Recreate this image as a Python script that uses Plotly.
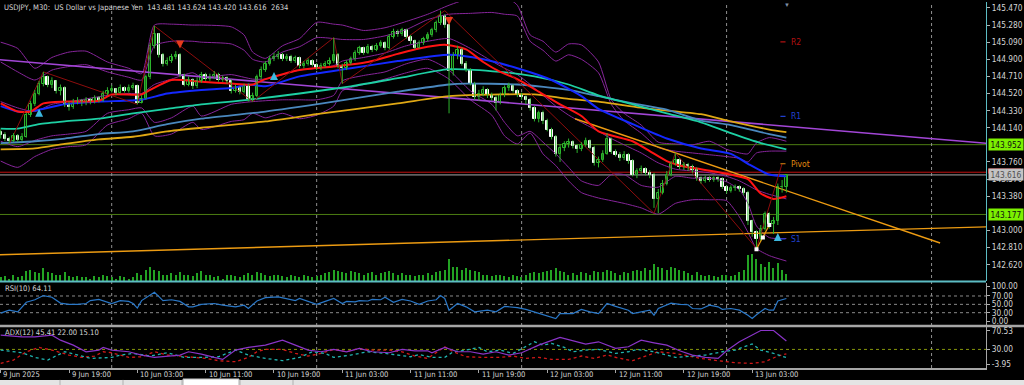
import plotly.graph_objects as go
import pandas as pd

# ---------------- data ----------------
first_open = 144.09
closes = [
    144.06, 144.02, 143.99, 144.05, 144.00, 144.04, 144.28, 144.40, 144.52, 144.63,
    144.70, 144.62, 144.66, 144.55, 144.58, 144.40, 144.37, 144.42, 144.44, 144.41,
    144.45, 144.43, 144.47, 144.44, 144.52, 144.55, 144.57, 144.53, 144.58, 144.55,
    144.58, 144.60, 144.42, 144.46, 144.70, 145.05, 145.18, 144.95, 144.85, 144.88,
    144.92, 144.95, 144.72, 144.62, 144.67, 144.60, 144.66, 144.72, 144.68, 144.70,
    144.73, 144.67, 144.69, 144.66, 144.55, 144.58, 144.54, 144.60, 144.46, 144.49,
    144.70, 144.78, 144.85, 144.90, 144.93, 144.95, 144.90, 144.93, 144.88, 144.91,
    144.82, 144.85, 144.88, 144.84, 144.80, 144.83, 144.85, 144.88, 144.95, 144.83,
    144.80, 144.86, 144.90, 144.97, 145.02, 144.97, 145.04, 145.00, 145.05, 145.08,
    145.02, 145.15, 145.20, 145.18, 145.22, 145.15, 145.10, 145.03, 145.08, 145.12,
    145.17, 145.22, 145.30, 145.38, 145.28, 144.77, 144.94, 145.00, 144.85, 144.78,
    144.63, 144.48, 144.52, 144.56, 144.50, 144.47, 144.42, 144.50, 144.58, 144.60,
    144.55, 144.50, 144.48, 144.45, 144.36, 144.24, 144.30, 144.22, 144.12, 144.04,
    143.85, 143.92, 143.96, 143.98, 143.94, 143.90, 143.95, 143.99, 143.92, 143.75,
    143.78, 143.85, 144.02, 143.87, 143.84, 143.80, 143.84, 143.77, 143.62, 143.66,
    143.68, 143.64, 143.62, 143.35, 143.42, 143.52, 143.62, 143.74, 143.78, 143.70,
    143.73, 143.70, 143.67, 143.58, 143.55, 143.58, 143.56, 143.58, 143.57, 143.48,
    143.44, 143.47, 143.48, 143.46, 143.42, 143.10, 142.98, 142.90, 143.02, 143.18,
    143.07, 143.10, 143.48, 143.481, 143.616,
]
highs = [
    144.12, 144.09, 144.04, 144.08, 144.07, 144.08, 144.31, 144.44, 144.56, 144.66,
    144.76, 144.72, 144.70, 144.67, 144.62, 144.60, 144.43, 144.46, 144.48, 144.46,
    144.48, 144.47, 144.50, 144.49, 144.55, 144.59, 144.61, 144.58, 144.62, 144.60,
    144.62, 144.64, 144.62, 144.50, 144.73, 145.08, 145.27, 145.19, 144.97, 144.92,
    144.96, 144.99, 144.97, 144.74, 144.71, 144.69, 144.70, 144.76, 144.75, 144.74,
    144.77, 144.75, 144.72, 144.71, 144.68, 144.62, 144.60, 144.63, 144.63, 144.53,
    144.73, 144.82, 144.88, 144.94, 144.97, 144.99, 144.97, 144.96, 144.95, 144.94,
    144.93, 144.88, 144.91, 144.90, 144.86, 144.86, 144.88, 144.92, 145.14, 144.97,
    144.85, 144.89, 144.93, 145.00, 145.05, 145.04, 145.07, 145.06, 145.08, 145.11,
    145.10, 145.18, 145.24, 145.23, 145.25, 145.24, 145.17, 145.12, 145.11, 145.15,
    145.20, 145.25, 145.33, 145.44, 145.40, 145.30, 144.98, 145.05, 145.03, 144.88,
    144.80, 144.65, 144.56, 144.60, 144.58, 144.53, 144.50, 144.53, 144.61, 144.64,
    144.62, 144.57, 144.53, 144.50, 144.47, 144.38, 144.33, 144.33, 144.24, 144.14,
    144.06, 143.96, 143.99, 144.02, 144.00, 143.96, 143.98, 144.03, 144.01, 143.94,
    143.82, 143.89, 144.08, 144.03, 143.90, 143.87, 143.88, 143.86, 143.79, 143.69,
    143.72, 143.70, 143.67, 143.64, 143.46, 143.56, 143.66, 143.77, 143.86, 143.80,
    143.76, 143.75, 143.73, 143.70, 143.60, 143.61, 143.60, 143.60, 143.60, 143.59,
    143.50, 143.50, 143.51, 143.50, 143.48, 143.44, 143.12, 143.00, 143.06, 143.21,
    143.20, 143.15, 143.52, 143.56, 143.624,
]
lows = [
    144.02, 143.99, 143.96, 143.98, 143.98, 143.99, 144.03, 144.26, 144.38, 144.50,
    144.60, 144.59, 144.58, 144.52, 144.50, 144.37, 144.33, 144.35, 144.40, 144.38,
    144.39, 144.40, 144.41, 144.42, 144.43, 144.50, 144.53, 144.50, 144.52, 144.53,
    144.53, 144.56, 144.40, 144.41, 144.45, 144.68, 145.02, 144.92, 144.82, 144.83,
    144.86, 144.90, 144.70, 144.60, 144.60, 144.57, 144.58, 144.64, 144.66, 144.66,
    144.68, 144.65, 144.65, 144.63, 144.52, 144.53, 144.51, 144.52, 144.43, 144.43,
    144.48, 144.68, 144.76, 144.83, 144.88, 144.90, 144.88, 144.88, 144.86, 144.86,
    144.80, 144.80, 144.83, 144.82, 144.78, 144.78, 144.81, 144.83, 144.86, 144.80,
    144.63, 144.78, 144.84, 144.88, 144.95, 144.95, 144.96, 144.98, 144.99, 145.03,
    145.00, 145.01, 145.13, 145.15, 145.16, 145.13, 145.07, 145.01, 145.02, 145.06,
    145.10, 145.15, 145.20, 145.28, 145.25, 144.30, 144.72, 144.90, 144.83, 144.76,
    144.61, 144.45, 144.44, 144.49, 144.47, 144.44, 144.33, 144.40, 144.48, 144.55,
    144.53, 144.48, 144.45, 144.40, 144.33, 144.21, 144.20, 144.18, 144.10, 144.01,
    143.82, 143.76, 143.88, 143.92, 143.91, 143.86, 143.88, 143.93, 143.90, 143.72,
    143.70, 143.76, 143.84, 143.85, 143.82, 143.77, 143.78, 143.74, 143.60, 143.58,
    143.63, 143.61, 143.58, 143.25, 143.19, 143.40, 143.50, 143.60, 143.72, 143.68,
    143.67, 143.66, 143.64, 143.55, 143.52, 143.53, 143.54, 143.54, 143.54, 143.46,
    143.41, 143.42, 143.44, 143.43, 143.39, 143.06, 142.93, 142.80, 142.88, 143.00,
    143.02, 142.96, 143.06, 143.42, 143.420,
]
volumes = [
    1500, 1900, 1100, 2300, 1500, 1900, 3800, 4500, 3400, 3000,
    4900, 3400, 3000, 2600, 2300, 3400, 1900, 1500, 1900, 1500,
    1500, 1100, 1900, 1500, 2300, 1900, 1500, 1100, 1900, 1500, 1100, 1500,
    3000, 2600, 4500, 5300, 4500, 3800,
    2600, 2300, 3000, 2300, 3400, 2600, 2300, 1900, 3000, 3800, 2600, 2300,
    1500, 1900, 1100, 2300, 2600, 1900, 1500, 2300, 3000, 2600,
    3400, 3000, 2300, 1900, 2600, 2300, 1900, 1500, 2300, 1900,
    1500, 2600, 1900, 1500, 1900, 2300,
    3000, 3400, 4500, 3800, 3400, 3000, 3800, 3400, 3000, 2600,
    3000, 3400, 2600, 3000, 3400, 3800, 3000, 2600, 3000, 2300,
    2300, 1900, 2600, 2300, 3000, 2600, 3400, 3800, 4500,
    8300,
    5600, 5300, 4500, 4900, 4500, 3800, 3400,
    2600, 2300, 1900, 2600, 2300, 1900, 1500, 2300, 1900, 1500, 2600, 3000, 3400,
    3000, 3400, 3800, 4500, 4900, 3800, 3400, 2600, 3000, 2600, 3400, 3000, 2600, 3800, 3400,
    3400, 4500, 3800, 3000, 2600, 3400, 3000, 3800, 4500, 3800, 4900, 4500,
    6400, 5600, 4900, 4500, 5300, 4900, 4500, 3800,
    3000, 2600, 3400, 2300, 1900, 2300, 1900, 1500, 2600, 2300, 1900, 2600,
    3400, 4500, 9800, 10200, 8300, 6400,
    5600, 7500, 4900, 7100, 4500, 2634,
]

# moving averages (bar index, price)
red_ma_bars = [0, 4, 7, 10, 15, 23, 26, 33, 35, 40, 47, 54, 59, 62, 70, 78, 86, 93, 98, 104, 109, 113,
               117, 121, 126, 131, 136, 140, 148, 152, 156, 160, 164, 171, 175, 178, 181, 184]
red_ma = [144.41, 144.32, 144.32, 144.41, 144.43, 144.44, 144.51, 144.51, 144.56, 144.67, 144.65, 144.63,
          144.62, 144.68, 144.78, 144.82, 144.87, 144.96, 145.02, 145.06, 145.01, 144.87, 144.76, 144.68,
          144.54, 144.40, 144.27, 144.10, 143.99, 143.88, 143.77, 143.71, 143.68, 143.62, 143.57, 143.41,
          143.35, 143.38]
blue_ma_bars = [0, 4, 8, 15, 23, 33, 39, 47, 54, 58, 62, 70, 82, 93, 105, 113, 121, 129, 136, 140, 148,
                156, 164, 171, 175, 180, 184]
blue_ma = [144.38, 144.32, 144.33, 144.40, 144.43, 144.45, 144.52, 144.56, 144.58, 144.62, 144.60, 144.71,
           144.80, 144.88, 144.95, 144.90, 144.80, 144.67, 144.49, 144.35, 144.18, 144.02, 143.91, 143.85,
           143.74, 143.62, 143.60]
teal_ma_bars = [0, 4, 9, 15, 23, 31, 39, 47, 58, 70, 82, 93, 105, 117, 125, 133, 140, 148, 156, 164, 171,
                178, 184]
teal_ma = [144.13, 144.13, 144.18, 144.21, 144.24, 144.30, 144.35, 144.40, 144.45, 144.52, 144.60, 144.69,
           144.79, 144.76, 144.71, 144.62, 144.50, 144.40, 144.30, 144.20, 144.08, 143.97, 143.90]
steel_ma_bars = [0, 8, 15, 23, 31, 39, 47, 62, 78, 93, 105, 109, 121, 133, 140, 148, 156, 164, 171, 180, 184]
steel_ma = [143.97, 143.99, 144.02, 144.07, 144.10, 144.18, 144.24, 144.32, 144.43, 144.54, 144.62, 144.63,
            144.62, 144.56, 144.49, 144.41, 144.34, 144.22, 144.17, 144.07, 144.03]
gold_ma_bars = [0, 8, 15, 23, 31, 39, 47, 62, 74, 93, 105, 117, 125, 133, 140, 152, 164, 171, 180, 184]
gold_ma = [143.90, 143.91, 143.96, 144.01, 144.04, 144.10, 144.14, 144.21, 144.29, 144.41, 144.49, 144.51,
           144.51, 144.46, 144.43, 144.35, 144.29, 144.21, 144.12, 144.09]

# bollinger style envelopes
band_bars = [0, 4, 8, 12, 16, 20, 25, 30, 33, 36, 40, 45, 47, 54, 57, 59, 62, 66, 70, 74, 78, 80, 85, 90,
             95, 100, 105, 110, 115, 118, 121, 124, 127, 130, 133, 136, 140, 143, 146, 150, 154, 158, 162,
             166, 170, 173, 175, 177, 180, 184]
band_uo = [145.09, 145.02, 144.80, 144.92, 144.98, 144.99, 144.87, 144.80, 144.74, 145.28, 145.29, 145.28,
           145.28, 145.26, 145.17, 144.98, 144.91, 145.05, 145.13, 145.31, 145.29, 145.28, 145.22, 145.25,
           145.32, 145.40, 145.50, 145.58, 145.62, 145.60, 145.50, 145.17, 145.10, 144.98, 145.07, 145.06,
           144.87, 144.45, 144.30, 144.17, 143.98, 143.96, 143.95, 143.99, 143.90, 143.86, 143.85, 143.97,
           144.03, 143.99]
band_ui = [144.87, 144.76, 144.67, 144.78, 144.82, 144.84, 144.76, 144.70, 144.67, 145.05, 145.10, 145.10,
           145.09, 145.07, 145.00, 144.90, 144.87, 144.98, 145.04, 145.14, 145.13, 145.12, 145.12, 145.16,
           145.23, 145.34, 145.40, 145.41, 145.42, 145.40, 145.38, 145.10, 145.00, 144.88, 144.95, 144.90,
           144.75, 144.40, 144.22, 144.08, 143.92, 143.88, 143.86, 143.84, 143.82, 143.80, 143.76, 143.86,
           143.88, 143.88]
band_mid = [144.43, 144.36, 144.32, 144.40, 144.43, 144.46, 144.50, 144.52, 144.52, 144.62, 144.68, 144.75,
            144.70, 144.73, 144.70, 144.68, 144.68, 144.73, 144.78, 144.80, 144.83, 144.88, 144.92, 144.97,
            145.05, 145.10, 145.13, 145.02, 144.88, 144.80, 144.73, 144.62, 144.50, 144.38, 144.28, 144.20,
            144.10, 144.02, 143.95, 143.86, 143.75, 143.68, 143.66, 143.64, 143.60, 143.55, 143.50, 143.45,
            143.40, 143.35]
band_li = [143.99, 143.93, 144.00, 144.05, 144.07, 144.10, 144.30, 144.34, 144.36, 144.20, 144.25, 144.38,
           144.27, 144.40, 144.42, 144.43, 144.44, 144.45, 144.45, 144.45, 144.50, 144.66, 144.72, 144.76,
           144.85, 144.90, 144.78, 144.55, 144.40, 144.20, 144.05, 144.10, 143.98, 143.85, 143.70, 143.55,
           143.50, 143.62, 143.62, 143.50, 143.48, 143.60, 143.58, 143.58, 143.54, 143.45, 143.30, 143.05,
           142.92, 142.91]
band_lo = [143.77, 143.70, 143.82, 143.90, 143.93, 143.95, 144.17, 144.24, 144.30, 144.05, 144.07, 144.20,
           144.12, 144.21, 144.23, 144.30, 144.25, 144.30, 144.24, 144.28, 144.38, 144.55, 144.62, 144.68,
           144.75, 144.80, 144.68, 144.45, 144.28, 144.05, 143.96, 144.08, 143.85, 143.72, 143.55, 143.42,
           143.36, 143.33, 143.30, 143.25, 143.18, 143.30, 143.34, 143.34, 143.33, 143.15, 142.98, 142.80,
           142.72, 142.66]

# trend lines, zigzag, markers
purple_tl_bars = [-0.2, 231.0]
purple_tl = [144.895, 143.967]
orange_up_bars = [-0.2, 231.0]
orange_up = [142.73, 143.04]
orange_dn_bars = [134.5, 220.0]
orange_dn = [144.24, 142.86]
zigzag_bars = [2, 10, 32, 36, 59, 78, 80, 104, 153, 158, 177, 183]
zigzag = [143.96, 144.76, 144.40, 145.27, 144.43, 145.14, 144.63, 145.44, 143.19, 143.86, 142.80, 143.74]
fractal_bars = [177, 178.5, 180]
fractal = [142.79, 142.92, 143.06]
arrow_up_bars = [9, 64, 182]
arrow_up = [144.35, 144.76, 142.97]
arrow_dn_bars = [42, 105]
arrow_dn = [145.02, 145.28]
pivot_names = ["R2", "R1", "Pivot", "S1"]
pivot_levels = [145.094, 144.265, 143.740, 142.906]
pivot_colors = ["#b01010", "#2040d0", "#e08a10", "#2040d0"]

levels_green = [143.952, 143.177]
bid, ask = 143.616, 143.646

# RSI(10)
rsi_bars = [0, 2, 4, 6, 8, 10, 12, 14, 16, 18, 20, 21, 23, 26, 28, 30, 31, 32, 33, 35, 36, 37, 38, 40, 42,
            44, 45, 47, 50, 52, 55, 57, 58, 60, 62, 65, 67, 69, 70, 72, 74, 76, 78, 80, 81, 83, 84, 86, 87,
            89, 90, 92, 94, 96, 98, 100, 102, 103, 104, 105, 107, 109, 111, 114, 116, 118, 121, 123, 125,
            127, 130, 131, 134, 136, 138, 140, 142, 144, 147, 148, 150, 152, 153, 154, 157, 159, 161, 162,
            164, 166, 168, 169, 171, 173, 175, 176, 177, 179, 180, 181, 182, 184]
rsi = [29, 36, 32, 55, 61, 71, 67, 53, 50, 50, 52, 59, 62, 52, 59, 57, 52, 41, 59, 71, 79, 69, 59, 61, 57,
       44, 44, 50, 52, 48, 44, 48, 40, 58, 66, 68, 64, 59, 64, 57, 50, 57, 64, 52, 57, 56, 59, 58, 62, 61,
       67, 55, 62, 58, 50, 58, 61, 71, 64, 36, 52, 44, 32, 36, 32, 45, 42, 38, 32, 26, 16, 28, 28, 38, 32,
       28, 52, 45, 36, 28, 32, 36, 24, 40, 53, 50, 49, 40, 39, 48, 44, 38, 40, 36, 24, 16, 25, 40, 36, 36,
       58, 64.11]

# ADX(12)
adx_bars = [0, 5, 8, 12, 14, 17, 20, 23, 24, 26, 30, 33, 36, 39, 42, 44, 47, 50, 52, 55, 58, 62, 66, 69,
            72, 75, 78, 81, 84, 87, 91, 94, 97, 100, 101, 104, 107, 110, 113, 116, 119, 122, 126, 131, 134,
            137, 140, 144, 147, 150, 153, 156, 159, 162, 165, 168, 170, 173, 178, 181, 184]
adx = [56.0, 53.0, 53.0, 56.0, 46.9, 37.8, 25.7, 28.8, 33.6, 28.8, 25.7, 19.7, 15.4, 17.9, 19.7, 25.7,
       21.5, 15.4, 11.8, 28.8, 33.6, 37.8, 46.9, 37.8, 28.8, 25.7, 30.0, 25.7, 31.8, 25.7, 23.9, 30.0, 27.5,
       27.5, 23.9, 33.6, 25.7, 25.7, 21.5, 25.7, 19.7, 23.9, 37.8, 51.8, 45.7, 39.7, 43.9, 31.8, 34.8, 46.9,
       42.1, 37.8, 27.5, 19.7, 15.4, 13.6, 27.5, 43.9, 64.5, 64.5, 45.41]
pdi_bars = [0, 3, 6, 9, 12, 16, 19, 22, 24, 26, 30, 33, 36, 39, 42, 45, 48, 51, 55, 58, 60, 62, 66, 69, 72,
            75, 78, 81, 84, 87, 91, 94, 97, 100, 104, 106, 109, 113, 117, 120, 123, 126, 129, 133, 136, 139,
            142, 145, 148, 151, 154, 158, 161, 164, 168, 172, 176, 179, 182, 184]
pdi = [4.5, 10.6, 25.7, 33.6, 28.8, 19.7, 15.4, 17.9, 25.7, 23.9, 15.4, 16.6, 25.7, 19.7, 17.9, 15.4, 13.6,
       9.4, 7.5, 15.4, 25.7, 30.0, 30.0, 22.7, 17.9, 22.7, 30.0, 25.7, 31.8, 28.8, 28.8, 25.7, 17.9, 13.6,
       34.8, 25.7, 16.6, 15.4, 15.4, 17.9, 13.6, 15.4, 11.8, 11.8, 17.9, 13.6, 19.7, 13.6, 9.4, 17.9, 25.7,
       22.7, 17.9, 13.6, 9.4, 5.7, 4.5, 7.5, 17.9, 22.0]
mdi_bars = [0, 5, 8, 11, 15, 18, 21, 26, 28, 31, 35, 39, 43, 47, 51, 55, 58, 62, 66, 70, 73, 76, 78, 82,
            86, 90, 94, 96, 98, 101, 104, 106, 109, 112, 114, 117, 120, 122, 125, 127, 129, 132, 134, 137,
            140, 144, 147, 149, 153, 156, 158, 162, 165, 169, 172, 176, 178, 181, 184]
mdi = [28.8, 23.9, 15.4, 10.6, 25.7, 19.7, 13.6, 15.4, 19.7, 22.7, 17.9, 23.9, 15.4, 15.4, 16.6, 28.8, 19.7,
       13.6, 9.4, 15.4, 25.7, 22.7, 15.4, 19.7, 25.7, 22.7, 18.0, 16.6, 20.6, 15.4, 15.4, 25.7, 28.8, 33.6,
       25.7, 28.8, 22.7, 31.8, 43.9, 37.8, 40.9, 33.6, 25.7, 28.8, 30.0, 22.7, 25.7, 30.0, 25.7, 19.7, 15.4,
       17.9, 19.7, 25.7, 28.8, 40.0, 28.8, 22.7, 15.1]

# price ticks that are visible on the right scale (the others sit under the level boxes)
price_ticks = [145.470, 145.280, 145.090, 144.900, 144.710, 144.520, 144.330, 144.140, 143.760,
               143.570, 143.380, 143.000, 142.810, 142.620]
xlabel_bars = [0, 16, 32, 48, 64, 80, 96, 112, 128, 144, 160, 176]
xlabels = ["9 Jun 2025", "9 Jun 19:00", "10 Jun 03:00", "10 Jun 11:00", "10 Jun 19:00", "11 Jun 03:00",
           "11 Jun 11:00", "11 Jun 19:00", "12 Jun 03:00", "12 Jun 11:00", "12 Jun 19:00", "13 Jun 03:00"]
day_sep_bars = [26, 74, 122, 170, 218]
header = "USDJPY, M30:  US Dollar vs Japanese Yen  143.481 143.624 143.420 143.616  2634"

for arr in (closes, highs, lows, volumes):
    assert len(arr) == 185, len(arr)
for a, b in ((red_ma_bars, red_ma), (blue_ma_bars, blue_ma), (teal_ma_bars, teal_ma),
             (steel_ma_bars, steel_ma), (gold_ma_bars, gold_ma), (rsi_bars, rsi), (adx_bars, adx),
             (pdi_bars, pdi), (mdi_bars, mdi)):
    assert len(a) == len(b)
for b in (band_uo, band_ui, band_mid, band_li, band_lo):
    assert len(b) == len(band_bars)

# ---------------- helpers ----------------
START = pd.Timestamp("2025-06-09 11:00")
BAR_MS = 30 * 60 * 1000


def T(b):
    return START + pd.Timedelta(minutes=30 * b)


PLOT_H = 368.0
PLOT_W = 986.0


def py(ypx):
    return (PLOT_H - ypx) / PLOT_H


FONT = "Liberation Sans Narrow, Arial Narrow, DejaVu Sans Condensed, sans-serif"
GREEN = "#2db52d"

n = len(closes)
opens = [first_open] + closes[:-1]
times = [T(i) for i in range(n)]

fig = go.Figure()


def add_line(bars, vals, color, width=1.0, dash=None, yaxis="y", shape="spline"):
    fig.add_trace(go.Scatter(x=[T(b) for b in bars], y=vals, mode="lines", yaxis=yaxis,
                             line=dict(color=color, width=width, dash=dash, shape=shape,
                                       smoothing=0.6 if shape == "spline" else None),
                             hoverinfo="skip"))


# bands (behind)
for vals in (band_uo, band_ui, band_mid, band_li, band_lo):
    add_line(band_bars, vals, "#86259a", 1)

# trend lines
add_line(purple_tl_bars, purple_tl, "#a246d6", 1.6, shape="linear")
add_line(orange_up_bars, orange_up, "#ec9b12", 1.4, shape="linear")
add_line(orange_dn_bars, orange_dn, "#ec9b12", 1.4, shape="linear")

# moving averages
add_line(gold_ma_bars, gold_ma, "#e0a814", 1.8)
add_line(steel_ma_bars, steel_ma, "#4a88be", 1.8)
add_line(teal_ma_bars, teal_ma, "#1ed0a4", 1.8)
add_line(blue_ma_bars, blue_ma, "#1428ff", 2.0)
add_line(red_ma_bars, red_ma, "#ff1414", 2.0)

# zigzag
add_line(zigzag_bars, zigzag, "#8e0d0d", 1.0, shape="linear")

# candle wicks
wx, wy = [], []
for t, h, l in zip(times, highs, lows):
    wx += [t, t, None]
    wy += [l, h, None]
fig.add_trace(go.Scatter(x=wx, y=wy, mode="lines", line=dict(color=GREEN, width=1), hoverinfo="skip"))

# candle bodies
base = [min(o, c) for o, c in zip(opens, closes)]
height = [max(abs(c - o), 0.004) for o, c in zip(opens, closes)]
fill = ["#000000" if c >= o else "#ffffff" for o, c in zip(opens, closes)]
edge = [GREEN if c >= o else "#ffffff" for o, c in zip(opens, closes)]
fig.add_trace(go.Bar(x=times, y=height, base=base, width=BAR_MS * 0.55,
                     marker=dict(color=fill, line=dict(color=edge, width=1)), hoverinfo="skip"))

# fractal markers and arrows
fig.add_trace(go.Scatter(x=[T(b) for b in fractal_bars], y=fractal, mode="lines+markers",
                         line=dict(color="#ec9b12", width=1.2),
                         marker=dict(symbol="square", size=4, color="#ffffff"), hoverinfo="skip"))
fig.add_trace(go.Scatter(x=[T(b) for b in arrow_up_bars], y=arrow_up, mode="markers",
                         marker=dict(symbol="arrow-up", size=8, color="#3cb8e0"), hoverinfo="skip"))
fig.add_trace(go.Scatter(x=[T(b) for b in arrow_dn_bars], y=arrow_dn, mode="markers",
                         marker=dict(symbol="arrow-down", size=8, color="#e83a1c"), hoverinfo="skip"))

# pivot ticks
for lvl, col in zip(pivot_levels, pivot_colors):
    add_line([182.6, 183.8], [lvl, lvl], col, 1.2, shape="linear")

# volume
fig.add_trace(go.Bar(x=times, y=volumes, yaxis="y4", width=BAR_MS * 0.3,
                     marker=dict(color="#23a323", line=dict(width=0)), hoverinfo="skip"))

# RSI
add_line(rsi_bars, rsi, "#2a78c8", 1.2, yaxis="y2", shape="linear")
# ADX
add_line(pdi_bars, pdi, "#d01818", 1.3, dash="dot", yaxis="y3", shape="linear")
add_line(mdi_bars, mdi, "#20b4b0", 1.3, dash="dot", yaxis="y3", shape="linear")
add_line(adx_bars, adx, "#8a34c8", 1.2, yaxis="y3", shape="linear")

# ---------------- shapes ----------------
shapes = []
for lvl in levels_green:
    shapes.append(dict(type="line", xref="paper", x0=0, x1=1, yref="y", y0=lvl, y1=lvl,
                       line=dict(color="#4c7d12", width=1), layer="below"))
shapes.append(dict(type="line", xref="paper", x0=0, x1=1, yref="y", y0=ask, y1=ask,
                   line=dict(color="#c01010", width=1), layer="below"))
shapes.append(dict(type="line", xref="paper", x0=0, x1=1, yref="y", y0=bid, y1=bid,
                   line=dict(color="#a8a8a8", width=1), layer="below"))
for b in day_sep_bars:
    shapes.append(dict(type="line", xref="x", x0=T(b), x1=T(b), yref="paper", y0=0, y1=1,
                       line=dict(color="#8f8f8f", width=1, dash="dot"), layer="below"))
for lv in (70, 50, 30):
    shapes.append(dict(type="line", xref="paper", x0=0, x1=1, yref="y2", y0=lv, y1=lv,
                       line=dict(color="#8a8a8a", width=1, dash="dot"), layer="below"))
shapes.append(dict(type="line", xref="paper", x0=0, x1=1, yref="y3", y0=30, y1=30,
                   line=dict(color="#86960a", width=1, dash="dot"), layer="below"))
# ask price box (its text is hidden under the bid box in the reference)
shapes.append(dict(type="rect", xref="paper", x0=988 / PLOT_W, x1=1021 / PLOT_W, yref="paper",
                   y0=py(172.5), y1=py(167.5), fillcolor="#e01010", line=dict(width=0)))
# panel separators
shapes.append(dict(type="line", xref="paper", x0=0, x1=1, yref="paper", y0=py(281), y1=py(281),
                   line=dict(color="#5cbcc4", width=2)))
shapes.append(dict(type="line", xref="paper", x0=0, x1=1024 / PLOT_W, yref="paper", y0=py(325.8),
                   y1=py(325.8), line=dict(color="#a6a6a6", width=2.5)))
# bottom tab strip
shapes.append(dict(type="rect", xref="paper", x0=0, x1=1024 / PLOT_W, yref="paper", y0=py(380), y1=py(386),
                   fillcolor="#e4e4e4", line=dict(width=0)))
for xp in (60, 123, 182, 240, 293):
    shapes.append(dict(type="line", xref="paper", x0=xp / PLOT_W, x1=xp / PLOT_W, yref="paper",
                       y0=py(380), y1=py(386), line=dict(color="#b0b0b0", width=1)))
shapes.append(dict(type="rect", xref="paper", x0=183 / PLOT_W, x1=239 / PLOT_W, yref="paper",
                   y0=py(379), y1=py(386), fillcolor="#ffffff", line=dict(color="#b0b0b0", width=1)))

# ---------------- annotations ----------------
ann = []
small = dict(family=FONT, size=7.6, color="#d6d6d6")
ann.append(dict(text=header.replace("  ", "\u00a0\u00a0"), xref="paper", yref="paper", x=0.002, y=py(6),
                xanchor="left", yanchor="middle", showarrow=False, font=small))
ann.append(dict(text="RSI(10) 64.11", xref="paper", yref="paper", x=0.003, y=py(288), xanchor="left",
                yanchor="middle", showarrow=False, font=small))
ann.append(dict(text="ADX(12) 45.41 22.00 15.10", xref="paper", yref="paper", x=0.003, y=py(332),
                xanchor="left", yanchor="middle", showarrow=False, font=small))
for b, txt in zip(xlabel_bars, xlabels):
    ann.append(dict(text=txt, xref="x", yref="paper", x=T(b), y=py(374.5), xanchor="left",
                    yanchor="middle", xshift=1 if b else 0, showarrow=False, font=small))
for name, lvl, col in zip(pivot_names, pivot_levels, pivot_colors):
    ann.append(dict(text=name, xref="x", yref="y", x=T(184.6), y=lvl, xanchor="left", yanchor="middle",
                    showarrow=False, font=dict(family=FONT, size=8.5, color=col)))
ann.append(dict(text="\u25bc", xref="x", yref="paper", x=T(184.2), y=py(3), xanchor="center",
                yanchor="middle", showarrow=False, font=dict(size=6, color="#7f8fa6")))


def box(txt, y, yref, bg, fc="#101010"):
    return dict(text=txt, xref="paper", yref=yref, x=1, y=y, xanchor="left", yanchor="middle", xshift=2,
                showarrow=False, bgcolor=bg, borderpad=0.5, width=33,
                font=dict(family=FONT, size=8.3, color=fc))


ann.append(box(f"{bid:.3f}", bid, "y", "#c4c4c4", "#505050"))
ann.append(box(f"{levels_green[0]:.3f}", levels_green[0], "y", "#7cf000"))
ann.append(box(f"{levels_green[1]:.3f}", levels_green[1], "y", "#7cf000"))

axis_font = dict(family=FONT, size=8.3, color="#d4d4d4")

fig.update_layout(
    width=1024, height=385,
    margin=dict(l=0, r=38, t=0, b=17),
    paper_bgcolor="#000000", plot_bgcolor="#000000",
    showlegend=False, hovermode=False, barmode="overlay", bargap=0,
    xaxis=dict(type="date", range=[T(-0.16), T(230.75)], domain=[0, 1], anchor="y3",
               showgrid=False, zeroline=False, showline=True, linecolor="#a6a6a6", linewidth=1.5,
               ticks="outside", ticklen=3, tickcolor="#a6a6a6",
               tickvals=[T(b) for b in xlabel_bars], showticklabels=False, fixedrange=True),
    yaxis=dict(domain=[py(281), 1], range=[142.433, 145.536], anchor="x", side="right",
               tickvals=price_ticks, ticktext=[f"{v:.3f}" for v in price_ticks],
               ticks="outside", ticklen=3, tickcolor="#b0b0b0", tickfont=axis_font,
               showgrid=False, zeroline=False, showline=True, linecolor="#5cbcc4", linewidth=1.2,
               fixedrange=True),
    yaxis2=dict(domain=[py(325), py(283)], range=[0, 100], anchor="x", side="right",
                tickvals=[92.9, 70, 50, 30, 9.5], ticktext=["100.00", "70.00", "50.00", "30.00", "0.00"],
                ticks="outside", ticklen=3, tickcolor="#b0b0b0", tickfont=axis_font,
                showgrid=False, zeroline=False, showline=True, linecolor="#a6a6a6", linewidth=1.2,
                fixedrange=True),
    yaxis3=dict(domain=[0, py(327)], range=[-3.95, 70.53], anchor="x", side="right",
                tickvals=[64.0, 30.0, 3.32], ticktext=["70.53", "30.00", "-3.95"],
                ticks="outside", ticklen=3, tickcolor="#b0b0b0", tickfont=axis_font,
                showgrid=False, zeroline=False, showline=True, linecolor="#a6a6a6", linewidth=1.2,
                fixedrange=True),
    yaxis4=dict(overlaying="y", anchor="x", side="right", range=[0, 105000], visible=False,
                fixedrange=True),
    shapes=shapes,
    annotations=ann,
)

fig.write_html("out.html")
